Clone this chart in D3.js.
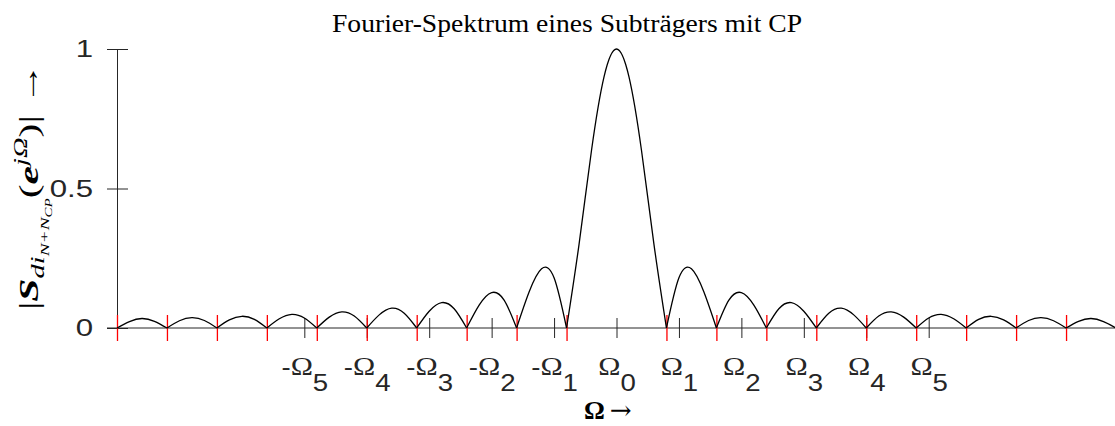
<!DOCTYPE html>
<html>
<head>
<meta charset="utf-8">
<script src="https://cdn.jsdelivr.net/npm/d3@7"></script>
<style>
  body { margin: 0; background: #fff; }
</style>
</head>
<body>
<div id="chart"></div>
<script>
var svgW = 1115;
var svgH = 426;

// sample positions, in units of pi (step pi/40 = a quarter of the zero spacing)
var omega = d3.range(-40, 41).map(function(i) { return i / 40; });

// |S(e^jOmega)| at those positions
var magnitude = [
  0, 0.023, 0.034, 0.024,
  0, 0.026, 0.037, 0.027,
  0, 0.029, 0.042, 0.031,
  0, 0.033, 0.049, 0.036,
  0, 0.039, 0.058, 0.043,
  0, 0.047, 0.071, 0.053,
  0, 0.060, 0.091, 0.069,
  0, 0.082, 0.127, 0.100,
  0, 0.129, 0.212, 0.180,
  0, 0.300, 0.637, 0.900,
  1,
  0.900, 0.637, 0.300, 0,
  0.180, 0.212, 0.129, 0,
  0.100, 0.127, 0.082, 0,
  0.069, 0.091, 0.060, 0,
  0.053, 0.071, 0.047, 0,
  0.043, 0.058, 0.039, 0,
  0.036, 0.049, 0.033, 0,
  0.031, 0.042, 0.029, 0,
  0.027, 0.037, 0.026, 0,
  0.024, 0.034, 0.023, 0
];

// zeros of the spectrum (red ticks), units of pi
var zeroPos = [-1, -0.9, -0.8, -0.7, -0.6, -0.5, -0.4, -0.3, -0.2, -0.1,
               0.1, 0.2, 0.3, 0.4, 0.5, 0.6, 0.7, 0.8, 0.9, 1];

// subcarrier frequencies Omega_k (black ticks), units of pi
var subcarrierIdx = [-5, -4, -3, -2, -1, 0, 1, 2, 3, 4, 5];
var subcarrierPos = [-0.625, -0.5, -0.375, -0.25, -0.125, 0, 0.125, 0.25, 0.375, 0.5, 0.625];

var yTicks = [0, 0.5, 1];
var yTickLabels = ["0", "0.5", "1"];

var titleText = "Fourier-Spektrum eines Subträgers mit CP";

var axisColor = "#262626";
var sans = "'Liberation Sans', Arial, Helvetica, sans-serif";
var serif = "'Liberation Serif', 'Times New Roman', serif";

var svg = d3.select("#chart")
  .append("svg")
  .attr("width", svgW)
  .attr("height", svgH);

var x = d3.scaleLinear().domain([-1, 1]).range([117, 1116]);
var y = d3.scaleLinear().domain([0, 1]).range([328, 49]);

// baseline
svg.append("line")
  .attr("x1", 107).attr("x2", svgW)
  .attr("y1", y(0)).attr("y2", y(0))
  .attr("stroke", axisColor)
  .attr("stroke-width", 1);

// y axis
var yAxis = svg.append("g")
  .attr("transform", "translate(" + x(-1) + ",0)")
  .call(d3.axisLeft(y)
    .tickValues(yTicks)
    .tickFormat(function(d, i) { return yTickLabels[i]; })
    .tickSize(10)
    .tickSizeOuter(0)
    .tickPadding(14));

yAxis.select(".domain").attr("stroke", axisColor);
yAxis.selectAll(".tick line").attr("x1", 11).attr("stroke", axisColor);
yAxis.selectAll(".tick text")
  .attr("x", -24 / 1.3)
  .attr("transform", "scale(1.3,1)")
  .attr("font-family", sans)
  .attr("font-size", 24)
  .attr("fill", axisColor);

// black ticks at the subcarriers
var xAxis = svg.append("g")
  .attr("transform", "translate(0," + y(0) + ")")
  .call(d3.axisBottom(x)
    .tickValues(subcarrierPos)
    .tickFormat("")
    .tickSize(10)
    .tickSizeOuter(0));

xAxis.select(".domain").remove();
xAxis.selectAll(".tick line").attr("y1", -10).attr("stroke", axisColor);

xAxis.selectAll(".tick").each(function(d, i) {
  var k = subcarrierIdx[i];
  var t = d3.select(this).select("text")
    .attr("y", 47)
    .attr("dy", null)
    .attr("transform", "scale(1.15,1)")
    .attr("fill", axisColor)
    .attr("font-family", sans)
    .attr("font-size", 24)
    .attr("text-anchor", "middle");
  if (k < 0) t.append("tspan").text("-");
  t.append("tspan").attr("font-family", serif).attr("font-size", 26).text("\u03A9");
  t.append("tspan").attr("dy", 16).text(Math.abs(k));
});

// red ticks at the zeros
var zAxis = svg.append("g")
  .attr("transform", "translate(0," + y(0) + ")")
  .call(d3.axisBottom(x)
    .tickValues(zeroPos)
    .tickFormat("")
    .tickSize(13)
    .tickSizeOuter(0));

zAxis.select(".domain").remove();
zAxis.selectAll(".tick line")
  .attr("y1", -13)
  .attr("stroke", "#ff0000")
  .attr("stroke-width", 1.3);

// curve, one piece per lobe
var lobes = [];
var cur = [];
omega.forEach(function(w, i) {
  cur.push([w, magnitude[i]]);
  if (magnitude[i] === 0 && cur.length > 1) {
    lobes.push(cur);
    cur = [[w, 0]];
  }
});

var line = d3.line()
  .x(function(d) { return x(d[0]); })
  .y(function(d) { return y(d[1]); })
  .curve(d3.curveNatural);

svg.append("g").selectAll("path")
  .data(lobes)
  .enter()
  .append("path")
  .attr("d", line)
  .attr("fill", "none")
  .attr("stroke", "#000")
  .attr("stroke-width", 1.3);

// title
svg.append("text")
  .attr("x", 567)
  .attr("y", 32)
  .attr("text-anchor", "middle")
  .attr("font-family", serif)
  .attr("font-size", 25)
  .attr("textLength", 470)
  .attr("lengthAdjust", "spacingAndGlyphs")
  .text(titleText);

// x label
var xl = svg.append("text")
  .attr("x", 584)
  .attr("y", 419)
  .attr("font-family", serif)
  .attr("font-size", 26);
xl.append("tspan").attr("font-weight", "bold").text("\u03A9");
xl.append("tspan").attr("dx", 5).attr("font-family", "'DejaVu Serif', serif").text("\u2192");

// y label
var yl = svg.append("text")
  .attr("transform", "translate(38,310) rotate(-90)")
  .attr("font-family", serif)
  .attr("font-size", 28)
  .attr("fill", "#000")
  .attr("textLength", 247)
  .attr("lengthAdjust", "spacingAndGlyphs");

yl.append("tspan").text("|");
yl.append("tspan").attr("font-weight", "bold").attr("font-style", "italic").text("S");
yl.append("tspan").attr("font-style", "italic").attr("font-size", 19).attr("dy", 6).text("di");
yl.append("tspan").attr("font-style", "italic").attr("font-size", 13).attr("dy", 5).text("N+N");
yl.append("tspan").attr("font-style", "italic").attr("font-size", 10).attr("dy", 3).text("CP");
yl.append("tspan").attr("dy", -14).text("(");
yl.append("tspan").attr("font-weight", "bold").attr("font-style", "italic").text("e");
yl.append("tspan").attr("font-style", "italic").attr("font-size", 19).attr("dy", -11).text("j\u03A9");
yl.append("tspan").attr("dy", 11).text(")|");
yl.append("tspan").text(" \u2192");
</script>
</body>
</html>
